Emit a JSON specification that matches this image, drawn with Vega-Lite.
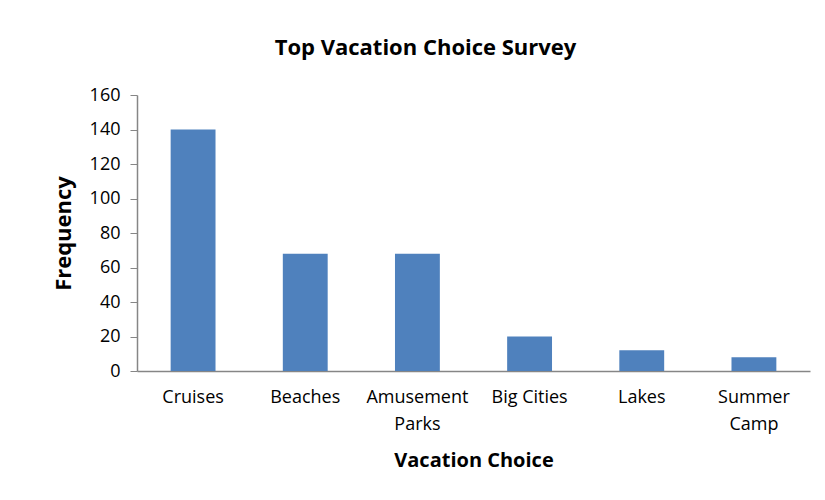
{
  "$schema": "https://vega.github.io/schema/vega-lite/v6.json",
  "width": 673,
  "height": 276,
  "autosize": {"type": "none"},
  "padding": {"left": 137, "top": 95, "right": 15, "bottom": 129},
  "background": "white",
  "title": {
    "text": "Top Vacation Choice Survey",
    "font": "Open Sans",
    "fontSize": 22,
    "fontWeight": "bold",
    "color": "black",
    "anchor": "middle",
    "dx": -48,
    "offset": 26
  },
  "data": {
    "values": [
      {"choice": "Cruises", "frequency": 140},
      {"choice": "Beaches", "frequency": 68},
      {"choice": "Amusement Parks", "frequency": 68},
      {"choice": "Big Cities", "frequency": 20},
      {"choice": "Lakes", "frequency": 12},
      {"choice": "Summer Camp", "frequency": 8}
    ]
  },
  "mark": {"type": "bar", "color": "#4F81BD"},
  "encoding": {
    "x": {
      "field": "choice",
      "type": "nominal",
      "sort": null,
      "scale": {"paddingInner": 0.6, "paddingOuter": 0.3},
      "axis": {
        "title": "Vacation Choice",
        "titleFont": "Open Sans",
        "titleFontSize": 20,
        "titleFontWeight": "bold",
        "titleColor": "black",
        "titlePadding": 17,
        "labelAngle": 0,
        "labelFont": "Open Sans",
        "labelFontSize": 18,
        "labelColor": "black",
        "labelPadding": 17,
        "labelLineHeight": 27,
        "labelExpr": "datum.value == 'Amusement Parks' ? ['Amusement', 'Parks'] : datum.value == 'Summer Camp' ? ['Summer', 'Camp'] : datum.value",
        "ticks": false,
        "domainColor": "#868686",
        "domainWidth": 1.5
      }
    },
    "y": {
      "field": "frequency",
      "type": "quantitative",
      "scale": {"domain": [0, 160]},
      "axis": {
        "title": "Frequency",
        "titleFont": "Open Sans",
        "titleFontSize": 22,
        "titleFontWeight": "bold",
        "titleColor": "black",
        "titlePadding": 14,
        "values": [0, 20, 40, 60, 80, 100, 120, 140, 160],
        "labelFont": "Open Sans",
        "labelFontSize": 18,
        "labelColor": "black",
        "labelPadding": 10,
        "tickSize": 7,
        "tickColor": "#868686",
        "domainColor": "#868686",
        "domainWidth": 1.5,
        "grid": false
      }
    }
  },
  "config": {"view": {"stroke": null}}
}
